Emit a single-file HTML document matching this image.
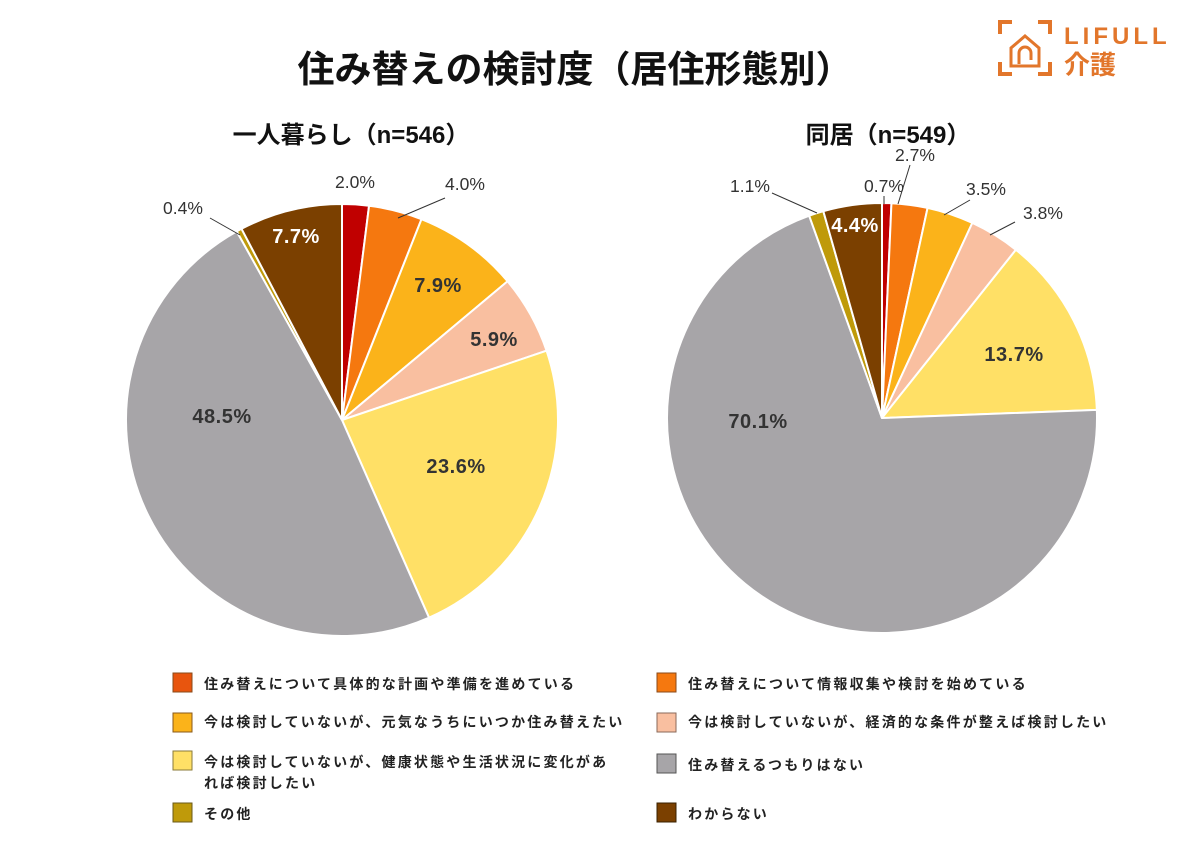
<!DOCTYPE html>
<html><head><meta charset="utf-8"><style>
body{margin:0;background:#fff;width:1200px;height:848px;overflow:hidden;font-family:"Liberation Sans","Noto Sans CJK JP",sans-serif;}
svg text{font-family:"Liberation Sans","Noto Sans CJK JP",sans-serif;}
</style></head><body>
<svg id="s" width="1200" height="848" xmlns="http://www.w3.org/2000/svg">
<text x="575" y="82" text-anchor="middle" font-size="37" font-weight="bold" fill="#111">住み替えの検討度（居住形態別）</text>
<g fill="none" stroke="#E2762B" stroke-width="4">
<path d="M1000 34V22H1012M1038 22H1050V34M1000 62V74H1012M1038 74H1050V62"/>
<path d="M1011 66V48L1025 36L1039 48V66Z" stroke-width="3"/>
<path d="M1019 64V53a6 6 0 0 1 12 0V60" stroke-width="3"/>
</g>
<text x="1064" y="44" font-size="24" font-weight="bold" fill="#E2762B" letter-spacing="4">LIFULL</text>
<text x="1064" y="74" font-size="26" font-weight="bold" fill="#E2762B">介護</text>
<text x="351" y="143" text-anchor="middle" font-size="24" font-weight="bold" fill="#111">一人暮らし（n=546）</text>
<text x="888" y="143" text-anchor="middle" font-size="24" font-weight="bold" fill="#111">同居（n=549）</text>
<g id="p1"></g><g id="p2"></g>
<g font-size="17.5" fill="#333">
<line x1="398" y1="218" x2="445" y2="198" stroke="#333"/><line x1="240" y1="235" x2="210" y2="218" stroke="#333"/>
<text x="355" y="188" text-anchor="middle">2.0%</text>
<text x="465" y="190" text-anchor="middle">4.0%</text>
<text x="183" y="214" text-anchor="middle">0.4%</text>
<line x1="817" y1="213" x2="772" y2="193" stroke="#333"/><line x1="884" y1="204" x2="884" y2="196" stroke="#333"/>
<line x1="898" y1="204" x2="910" y2="165" stroke="#333"/><line x1="944" y1="215" x2="970" y2="200" stroke="#333"/><line x1="990" y1="235" x2="1015" y2="222" stroke="#333"/>
<text x="750" y="192" text-anchor="middle">1.1%</text>
<text x="884" y="192" text-anchor="middle">0.7%</text>
<text x="915" y="161" text-anchor="middle">2.7%</text>
<text x="986" y="195" text-anchor="middle">3.5%</text>
<text x="1043" y="219" text-anchor="middle">3.8%</text>
</g>
<g font-size="20" font-weight="bold" fill="#333" text-anchor="middle" letter-spacing="0.5">
<text x="296" y="243" fill="#fff">7.7%</text>
<text x="438" y="292">7.9%</text>
<text x="494" y="346">5.9%</text>
<text x="456" y="473">23.6%</text>
<text x="222" y="423">48.5%</text>
<text x="855" y="232" fill="#fff">4.4%</text>
<text x="1014" y="361">13.7%</text>
<text x="758" y="428">70.1%</text>
</g>
<g font-size="14" fill="#222" font-weight="bold" letter-spacing="2.2">
<rect x="173" y="673" width="19" height="19" fill="#E8550E" stroke="#8a4a1a"/><text x="204" y="689">住み替えについて具体的な計画や準備を進めている</text>
<rect x="173" y="713" width="19" height="19" fill="#FBB31A" stroke="#8a5a1a"/><text x="204" y="727">今は検討していないが、元気なうちにいつか住み替えたい</text>
<rect x="173" y="751" width="19" height="19" fill="#FFE066" stroke="#8a7a3a"/><text x="204" y="767">今は検討していないが、健康状態や生活状況に変化があ</text><text x="204" y="788">れば検討したい</text>
<rect x="173" y="803" width="19" height="19" fill="#BF9A0A" stroke="#6a5a1a"/><text x="204" y="819">その他</text>
<rect x="657" y="673" width="19" height="19" fill="#F5780F" stroke="#8a4a1a"/><text x="688" y="689">住み替えについて情報収集や検討を始めている</text>
<rect x="657" y="713" width="19" height="19" fill="#F9BFA0" stroke="#8a6a5a"/><text x="688" y="727">今は検討していないが、経済的な条件が整えば検討したい</text>
<rect x="657" y="754" width="19" height="19" fill="#A7A5A8" stroke="#555"/><text x="688" y="770">住み替えるつもりはない</text>
<rect x="657" y="803" width="19" height="19" fill="#7B4000" stroke="#3a2000"/><text x="688" y="819">わからない</text>
</g>
</svg>
<script>
var cols=["#C00000","#F5780F","#FBB31A","#F9BFA0","#FFE066","#A7A5A8","#BF9A0A","#7B4000"];
function pie(id,cx,cy,r,v){var g=document.getElementById(id),a=0,h="";
for(var i=0;i<v.length;i++){var a0=a,a1=a+v[i]/100*2*Math.PI;a=a1;
var x0=cx+r*Math.sin(a0),y0=cy-r*Math.cos(a0),x1=cx+r*Math.sin(a1),y1=cy-r*Math.cos(a1);
h+='<path d="M'+cx+' '+cy+'L'+x0+' '+y0+'A'+r+' '+r+' 0 '+((a1-a0)>Math.PI?1:0)+' 1 '+x1+' '+y1+'Z" fill="'+cols[i]+'" stroke="#fff" stroke-width="2"/>';}
g.innerHTML=h;}
pie("p1",342,420,216,[2.0,4.0,7.9,5.9,23.6,48.5,0.4,7.7]);
pie("p2",882,418,215,[0.7,2.7,3.5,3.8,13.7,70.1,1.1,4.4]);
</script>
</body></html>
